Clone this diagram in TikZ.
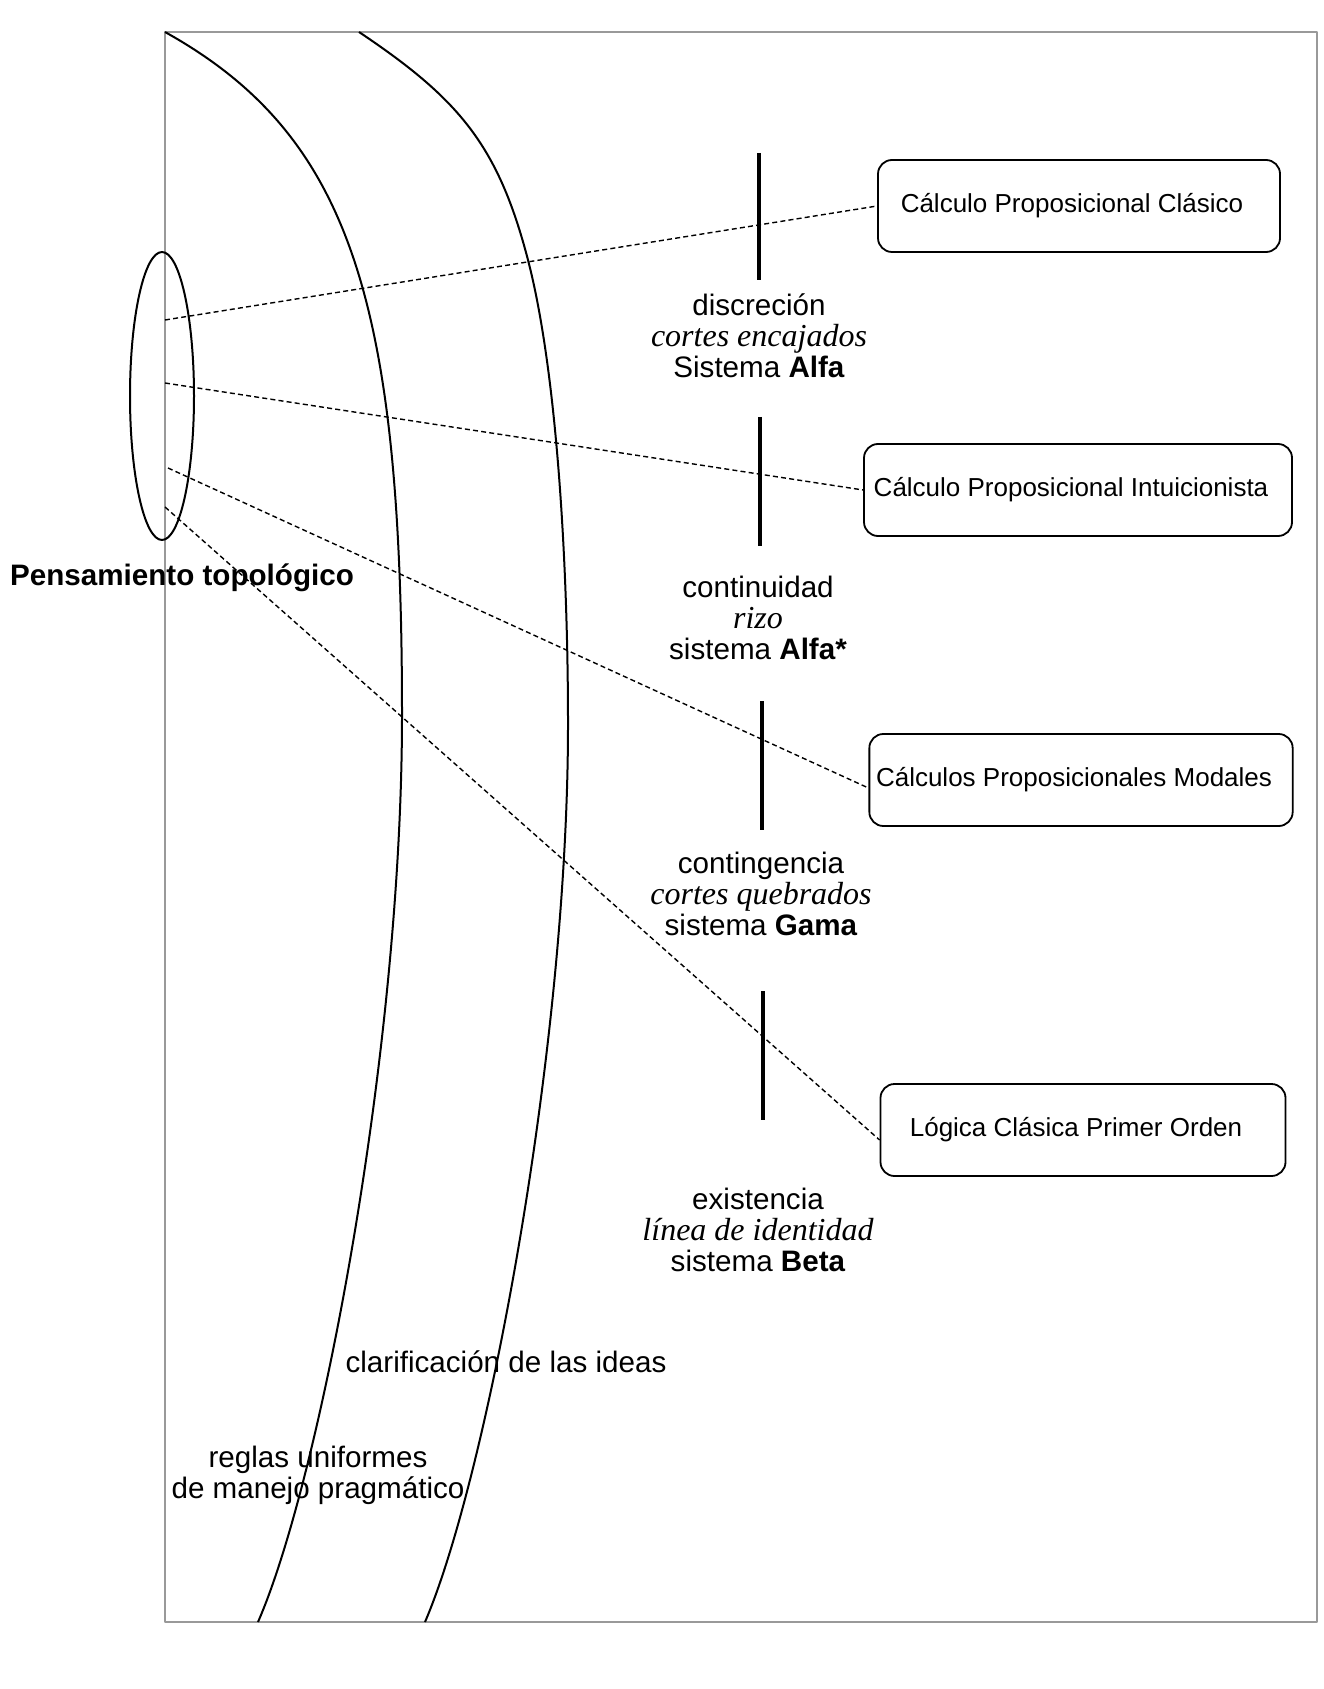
\documentclass[tikz,border=0pt]{standalone}
\usepackage{fontspec}
\setsansfont{Liberation Sans}
\newfontfamily\serifcur{Liberation Serif}
\usetikzlibrary{shapes.geometric}
\tikzset{
  caja/.style={draw,rounded corners=7pt,line width=.9pt,minimum height=46pt,font=\sffamily\fontsize{13}{15}\selectfont,execute at end node={\hspace*{7pt}}},
  etiq/.style={align=center,font=\sffamily\fontsize{14.8}{15.5}\selectfont},
  punteada/.style={line width=.7pt,dash pattern=on 2.5pt off 1.6pt},
  corte/.style={line width=1.8pt},
}
\newcommand{\cursiva}[1]{{\serifcur\itshape\fontsize{16}{15.5}\selectfont #1}}
\begin{document}
\begin{tikzpicture}[x=.5pt,y=-.5pt,line join=round]
  \useasboundingbox (0,0) rectangle (1323,1689);
  \draw[black!40,line width=1pt] (165,32) rectangle (1317,1622);
  % las dos bandas
  \draw[line width=1pt] (165,32) .. controls (350,135) and (402,300) .. (402,715)
    .. controls (402,1050) and (320,1480) .. (258,1622);
  \draw[line width=1pt] (359,32) .. controls (459,99) and (498,145) .. (528,260)
    .. controls (558,376) and (568,574) .. (568,724)
    .. controls (568,1050) and (486,1480) .. (425,1622);
  \node[ellipse,draw,line width=1pt,minimum width=32pt,minimum height=144pt,inner sep=0pt] (topo) at (162,396) {};
  \node[font=\sffamily\bfseries\fontsize{14.8}{16}\selectfont] (pens) at (182,578) {Pensamiento topológico};
  % cajas
  \node[caja,minimum width=201pt] (clasico) at (1079,206) {Cálculo Proposicional Clásico};
  \node[caja,minimum width=214pt] (intuic) at (1078,490) {Cálculo Proposicional Intuicionista};
  \node[caja,minimum width=210.5pt] (modal) at (1081,780) {Cálculos Proposicionales Modales};
  \node[caja,minimum width=202.5pt] (primer) at (1083,1130) {Lógica Clásica Primer Orden};
  % cortes
  \draw[corte] (759,153) -- (759,280);
  \draw[corte] (760,417) -- (760,546);
  \draw[corte] (762,701) -- (762,830);
  \draw[corte] (763,991) -- (763,1120);
  \node[etiq] (alfa) at (759,336) {discreción\\\cursiva{cortes encajados}\\Sistema \textbf{Alfa}};
  \node[etiq] (alfae) at (758,618) {continuidad\\\cursiva{rizo}\\sistema \textbf{Alfa*}};
  \node[etiq] (gama) at (761,894) {contingencia\\\cursiva{cortes quebrados}\\sistema \textbf{Gama}};
  \node[etiq] (beta) at (758,1230) {existencia\\\cursiva{línea de identidad}\\sistema \textbf{Beta}};
  \node[etiq] (clarif) at (506,1362) {clarificación de las ideas};
  \node[etiq] (reglas) at (318,1475) {reglas uniformes\\de manejo pragmático};
  % lineas punteadas
  \coordinate (s1) at (165,320);
  \coordinate (s2) at (165,383);
  \coordinate (s3) at (168,468);
  \coordinate (s4) at (165,507);
  \draw[punteada] (s1) -- (clasico.west);
  \draw[punteada] (s2) -- (intuic.west);
  \draw[punteada] (s3) -- ([yshift=-4pt]modal.west);
  \draw[punteada] (s4) -- ([yshift=-5pt]primer.west);
\end{tikzpicture}
\end{document}
